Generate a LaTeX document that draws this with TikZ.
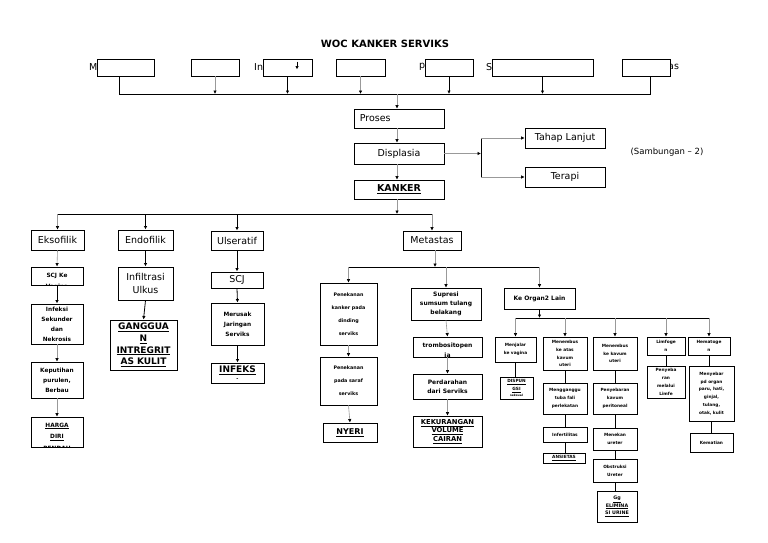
\documentclass[tikz,border=0pt]{standalone}
\usepackage{fontspec}
\setmainfont{DejaVu Sans}
\usetikzlibrary{arrows.meta}
\newcommand\bx[7][]{\node[box,minimum width={#5pt-#3pt},minimum height={#6pt-#4pt},#1] (#2) at ({(#3+#5)/2},{(#4+#6)/2}) {#7};}
\newcommand\cbx[8][]{\node[box,minimum width={#5pt-#3pt},minimum height={#6pt-#4pt}] (#2) at ({(#3+#5)/2},{(#4+#6)/2}) {};
 \begin{scope}\clip (#3,#4) rectangle (#5,#6);
 \node[align=center,inner sep=0pt,anchor=north,#1] at ({(#3+#5)/2},{#4+#7}) {#8};\end{scope}}
\tikzset{
 box/.style={draw,line width=0.9pt,fill=white,inner sep=0pt,align=center},
 garr/.style={draw=black!40,line width=0.6pt,-{Latex[length=3.5pt,width=3.5pt,color=black]}},
 barr/.style={draw=black,line width=0.8pt,-{Latex[length=3.5pt,width=3.5pt]}},
 bline/.style={draw=black,line width=0.8pt},
 ft/.style={font=\fontsize{9.5}{11.5}\selectfont},
 fb/.style={font=\bfseries\fontsize{9}{11.7}\selectfont},
 fs/.style={font=\bfseries\fontsize{5.8}{10}\selectfont},
 fp/.style={font=\bfseries\fontsize{4.8}{13}\selectfont},
 fm/.style={font=\bfseries\fontsize{6}{9}\selectfont},
 fx/.style={font=\bfseries\fontsize{4.3}{7.8}\selectfont}
}
\begin{document}
\begin{tikzpicture}[x=1pt,y=-1pt]
\fill[white] (0,0) rectangle (768,543);
\useasboundingbox (0,0) rectangle (768,543);
% title
\node[font=\bfseries\fontsize{10}{12}\selectfont] (title) at (385,44) {WOC KANKER SERVIKS};
% fragments behind top boxes
\node[ft,anchor=west,inner sep=0pt] (fM) at (89,67) {M};
\node[ft,anchor=west,inner sep=0pt] (fIn) at (254,67) {In};
\node[ft,anchor=west,inner sep=0pt] (fp) at (419,67) {p};
\node[ft,anchor=west,inner sep=0pt] (fS) at (486,67) {S};
\node[ft,anchor=west,inner sep=0pt] (fas) at (668,67) {as};
% top boxes
\bx{t1}{97}{59}{154}{76}{}
\bx{t2}{191}{59}{239}{76}{}
\bx{t3}{263}{59}{312}{76}{}
\bx{t4}{336}{59}{385}{76}{}
\bx{t5}{425}{59}{473}{76}{}
\bx{t6}{492}{59}{593}{76}{}
\bx{t7}{622}{59}{670}{76}{}
\draw[barr] ([xshift=9.5pt,yshift=-3pt]t3.north) -- ([xshift=9.5pt,yshift=-11pt]t3.north);
\coordinate (b1L) at (119,94);
\coordinate (b1R) at (650,94);
\coordinate (k) at (397,94);
\draw[bline] (t1.south -| b1L) -- (b1L) -- (b1R) -- (t7.south -| b1R);
\draw[garr] (t2.south) -- (t2.south |- b1L);
\draw[barr] (t3.south) -- (t3.south |- b1L);
\draw[garr] (t4.south) -- (t4.south |- b1L);
\draw[barr] (t5.south) -- (t5.south |- b1L);
\draw[barr] (t6.south) -- (t6.south |- b1L);
% main column
\bx{proses}{354}{109}{444}{128}{}
\node[ft,anchor=west,inner sep=0pt] (tproses) at ([xshift=6pt]proses.west) {Proses};
\bx[ft]{disp}{354}{143}{444}{164}{Displasia}
\bx[font=\bfseries\fontsize{9.5}{11}\selectfont]{kanker}{354}{180}{444}{199}{\underline{KANKER}}
\draw[garr] (k) -- (proses.north -| k);
\draw[garr] (proses.south -| k) -- (disp.north -| k);
\draw[garr] (disp.south -| k) -- (kanker.north -| k);
% displasia branch
\bx[ft]{tahap}{525}{128}{605}{148}{Tahap Lanjut}
\bx[ft]{terapi}{525}{167}{605}{187}{Terapi}
\coordinate (brT) at (481,138);
\coordinate (brB) at (481,177);
\draw[garr] (disp.east) -- (disp.east -| brT);
\draw[line width=0.7pt] (brT) -- (brB);
\draw[garr] (brT) -- (tahap.west);
\draw[garr] (brB) -- (terapi.west);
\node[font=\fontsize{8.5}{10}\selectfont] (samb) at (667,152) {(Sambungan -- 2)};
% level 2
\bx[ft]{eks}{31}{230}{84}{250}{Eksofilik}
\bx[ft]{endo}{118}{230}{173}{250}{Endofilik}
\bx[ft]{ulser}{211}{231}{263}{250}{Ulseratif}
\bx[ft]{meta}{403}{231}{461}{250}{Metastas}
\coordinate (b2) at (397,214);
\draw[garr] (kanker.south -| k) -- (k |- b2);
\draw[bline] (eks.north |- b2) -- (meta.north |- b2);
\draw[garr] (eks.north |- b2) -- (eks.north);
\draw[barr] (endo.north |- b2) -- (endo.north);
\draw[barr] (ulser.north |- b2) -- (ulser.north);
\draw[garr] (meta.north |- b2) -- (meta.north);
% eksofilik column
\cbx[font=\bfseries\fontsize{5.8}{11.5}\selectfont]{scjke}{31}{267}{83}{285}{5.5}{SCJ Ke\\Vagina}
\bx[fs]{infs}{31}{304}{83}{344}{Infeksi\\Sekunder\\dan\\Nekrosis}
\bx[fs]{kep}{31}{362}{83}{398}{Keputihan\\purulen,\\Berbau}
\cbx[font=\bfseries\fontsize{5.8}{11.5}\selectfont]{harga}{31}{417}{83}{447}{5.5}{\underline{HARGA}\\\underline{DIRI}\\\underline{RENDAH}}
\draw[garr] (eks.south) -- (scjke.north);
\draw[barr] (scjke.south) -- (infs.north);
\draw[garr] (infs.south) -- (kep.north);
\draw[garr] (kep.south) -- (harga.north);
% endofilik column
\bx[ft,font=\fontsize{9.5}{13}\selectfont]{infil}{118}{267}{173}{300}{Infiltrasi\\Ulkus}
\bx[fb]{gang}{110}{320}{177}{370}{\underline{GANGGUA}\\\underline{N}\\\underline{INTREGRIT}\\\underline{AS KULIT}}
\draw[barr] (endo.south) -- (infil.north);
\draw[barr] (infil.south) -- (gang.north);
% ulseratif column
\bx[ft]{scj}{211}{272}{263}{288}{SCJ}
\bx[fs]{merusak}{211}{303}{264}{345}{Merusak\\Jaringan\\Serviks}
\bx[fb]{infeks}{211}{363}{264}{383}{\underline{INFEKS}\\[-4pt]{\fontsize{5}{5}\selectfont -}}
\draw[barr] (ulser.south) -- (scj.north);
\draw[barr] (scj.south) -- (merusak.north);
\draw[barr] (merusak.south) -- (infeks.north);
% metastas subtree
\coordinate (b3) at (435,267);
\draw[garr] (meta.south -| b3) -- (b3);
\bx[fp]{pen1}{320}{283}{377}{345}{Penekanan\\kanker pada\\dinding\\serviks}
\bx[fp]{pen2}{320}{357}{377}{405}{Penekanan\\pada saraf\\serviks}
\bx[font=\bfseries\fontsize{8}{10}\selectfont]{nyeri}{323}{423}{377}{442}{\underline{NYERI}}
\bx[fm]{sup}{411}{288}{481}{320}{Supresi\\sumsum tulang\\belakang}
\cbx[font=\bfseries\fontsize{6}{10.5}\selectfont]{trom}{413}{337}{482}{357}{5.5}{trombositopen\\ia}
\bx[fm]{perd}{413}{374}{482}{399}{Perdarahan\\dari Serviks}
\bx[font=\bfseries\fontsize{6.8}{8.7}\selectfont]{kek}{413}{416}{482}{447}{\underline{KEKURANGAN}\\\underline{VOLUME}\\\underline{CAIRAN}}
\bx[fm]{ko}{504}{288}{575}{309}{Ke Organ2 Lain}
\draw[bline] (pen1.north |- b3) -- (ko.north |- b3);
\draw[garr] (pen1.north |- b3) -- (pen1.north);
\draw[garr] (sup.north |- b3) -- (sup.north);
\draw[garr] (ko.north |- b3) -- (ko.north);
\draw[garr] (pen1.south) -- (pen2.north);
\draw[garr] (pen2.south) -- (nyeri.north);
\draw[garr] (sup.south) -- (trom.north);
\draw[garr] (trom.south) -- (perd.north);
\draw[garr] (perd.south) -- (kek.north);
% ke organ subtree
\bx[fx]{mj}{495}{337}{536}{362}{Menjalar\\ke vagina}
\bx[fx]{mb1}{543}{337}{587}{370}{Menembus\\ke atas\\kavum\\uteri}
\bx[fx]{mb2}{593}{337}{637}{370}{Menembus\\ke kavum\\uteri}
\bx[fx]{lim}{647}{337}{685}{355}{Limfoge\\n}
\bx[fx]{hem}{688}{337}{730}{355}{Hematoge\\n}
\coordinate (b4) at (540,318);
\draw[barr] (ko.south) -- (ko.south |- b4);
\draw[bline] (mj.north |- b4) -- (hem.north |- b4);
\draw[garr] (mj.north |- b4) -- (mj.north);
\draw[garr] (mb1.north |- b4) -- (mb1.north);
\draw[garr] (mb2.north |- b4) -- (mb2.north);
\draw[garr] (lim.north |- b4) -- (lim.north);
\draw[garr] (hem.north |- b4) -- (hem.north);
\bx[fx]{dis}{500}{377}{533}{399}{\underline{DISPUN}\\\underline{GSI}\\[-2pt]{\fontsize{3}{3}\selectfont seksual}}
\bx[fx]{mgg}{543}{383}{587}{414}{Mengganggu\\tuba fali\\perlekatan}
\bx[fx]{infer}{543}{427}{587}{442}{Infertilitas}
\bx[fx]{ans}{543}{453}{585}{463}{\underline{ANSIETAS}}
\bx[fx]{pkav}{593}{383}{637}{414}{Penyebaran\\kavum\\peritoneal}
\bx[fx]{mnk}{593}{428}{637}{450}{Menekan\\ureter}
\bx[fx]{obs}{593}{459}{637}{482}{Obstruksi\\Ureter}
\bx[fx,font=\bfseries\fontsize{4.8}{7.5}\selectfont]{gg}{597}{491}{637}{522}{\underline{Gg}\\\underline{ELIMINA}\\\underline{SI URINE}}
\bx[fx]{plim}{647}{366}{685}{398}{Penyeba\\ran\\melalui\\Limfe}
\bx[fx]{mny}{689}{366}{734}{421}{Menyebar\\pd organ\\paru, hati,\\ginjal,\\tulang,\\otak, kulit}
\bx[fx]{kem}{690}{433}{733}{452}{Kematian}
\draw[bline] (mj.south) -- (mj.south |- dis.north);
\draw[bline] (mb1.south) -- (mgg.north);
\draw[bline] (mgg.south) -- (infer.north);
\draw[bline] (infer.south) -- (infer.south |- ans.north);
\draw[bline] (mb2.south) -- (pkav.north);
\draw[bline] (pkav.south) -- (mnk.north);
\draw[bline] (mnk.south) -- (obs.north);
\draw[bline] (obs.south) -- (obs.south |- gg.north);
\draw[bline] (lim.south) -- (plim.north);
\draw[bline] (hem.south) -- (hem.south |- mny.north);
\draw[bline] (mny.south) -- (mny.south |- kem.north);
\end{tikzpicture}
\end{document}
